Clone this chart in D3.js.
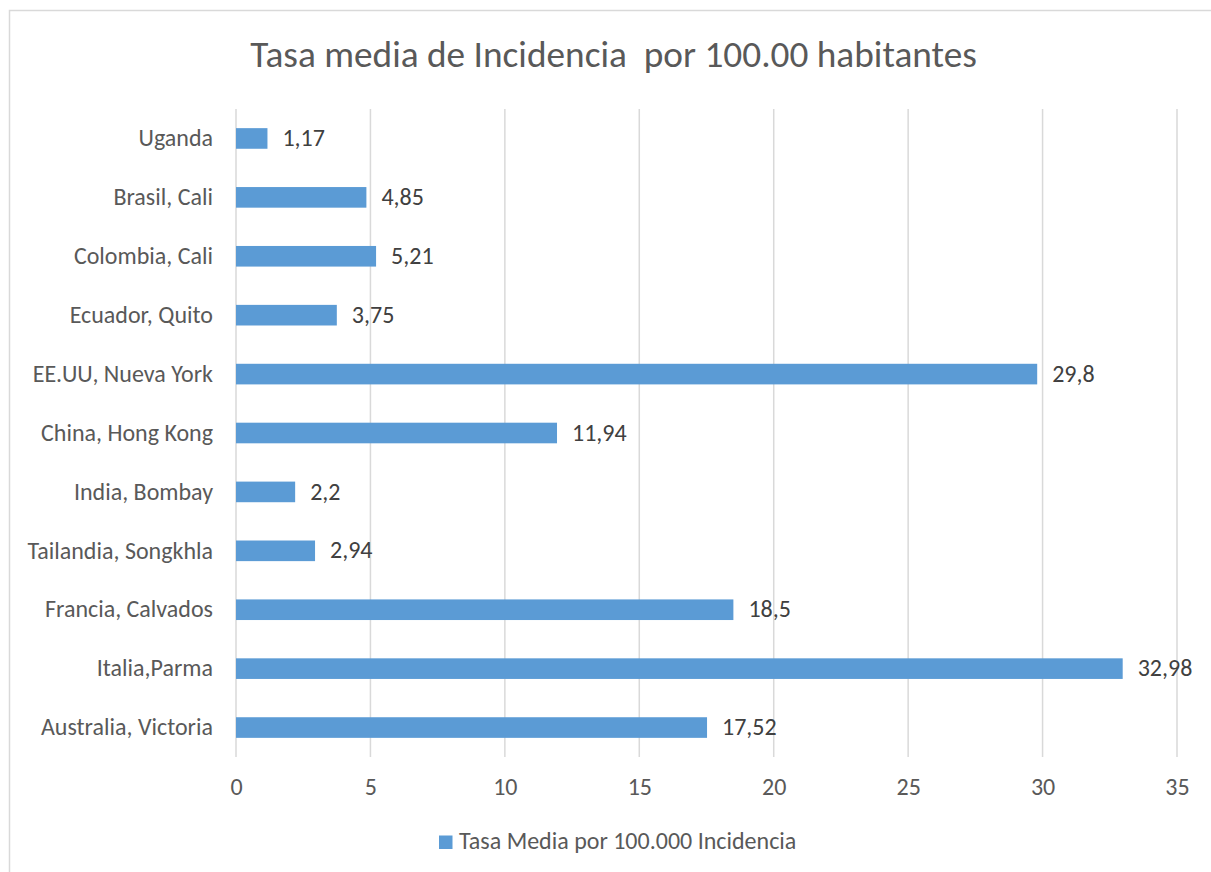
<!DOCTYPE html>
<html><head><meta charset="utf-8"><script src="https://cdn.jsdelivr.net/npm/d3@7"></script>
<style>
  body { margin: 0; background: #fff; }
  text { font-family: Carlito, Lato, "Liberation Sans", sans-serif; }
</style></head>
<body>
<svg id="chart" width="1211" height="872"></svg>
<script>
// Incidence rate per 100,000 inhabitants by registry
const categories = ["Uganda", "Brasil, Cali", "Colombia, Cali", "Ecuador, Quito", "EE.UU, Nueva York",
  "China, Hong Kong", "India, Bombay", "Tailandia, Songkhla", "Francia, Calvados", "Italia,Parma", "Australia, Victoria"];
const values = [1.17, 4.85, 5.21, 3.75, 29.8, 11.94, 2.2, 2.94, 18.5, 32.98, 17.52];
const valueLabels = ["1,17", "4,85", "5,21", "3,75", "29,8", "11,94", "2,2", "2,94", "18,5", "32,98", "17,52"];
const xTicks = [0, 5, 10, 15, 20, 25, 30, 35];
const title = "Tasa media de Incidencia  por 100.00 habitantes";
const seriesName = "Tasa Media por 100.000 Incidencia";

const svg = d3.select("#chart");
const plot = { left: 236, right: 1177, top: 109, bottom: 757 };

// chart frame
svg.append("rect")
  .attr("x", 9.5).attr("y", 10.5).attr("width", 1300).attr("height", 1000)
  .attr("fill", "#fff").attr("stroke", "#d9d9d9").attr("stroke-width", 1.5);

// title
svg.append("text")
  .attr("x", 613.5).attr("y", 66.5)
  .attr("text-anchor", "middle")
  .style("font-size", "37.3px").style("fill", "#595959").style("white-space", "pre")
  .text(title);

const x = d3.scaleLinear().domain([0, 35]).range([plot.left, plot.right]);
const y = d3.scaleBand().domain(categories).range([plot.top, plot.bottom])
  .paddingInner(0.65).paddingOuter(0.325);

// vertical gridlines
svg.append("g").selectAll("line").data(xTicks).join("line")
  .attr("x1", d => x(d)).attr("x2", d => x(d))
  .attr("y1", plot.top).attr("y2", plot.bottom)
  .attr("stroke", "#d9d9d9").attr("stroke-width", 1.5);

// x axis labels
const xAxis = d3.axisBottom(x).tickValues(xTicks).tickSize(0).tickPadding(0).tickFormat(d3.format("d"));
const gx = svg.append("g").attr("transform", `translate(0,${plot.bottom})`).call(xAxis);
gx.select(".domain").remove();
gx.selectAll("text")
  .attr("y", 38).attr("dy", null)
  .style("font-size", "24px").style("fill", "#595959")
  .style("font-family", "Carlito, Lato, 'Liberation Sans', sans-serif");

// category labels
const yAxis = d3.axisLeft(y).tickSize(0).tickPadding(23);
const gy = svg.append("g").attr("transform", `translate(${plot.left},0)`).call(yAxis);
gy.select(".domain").remove();
gy.selectAll("text")
  .attr("dy", "0.32em")
  .style("font-size", "24px").style("fill", "#595959")
  .style("font-family", "Carlito, Lato, 'Liberation Sans', sans-serif");

// bars
svg.append("g").selectAll("rect").data(values).join("rect")
  .attr("x", x(0))
  .attr("y", (d, i) => y(categories[i]))
  .attr("width", d => x(d) - x(0))
  .attr("height", y.bandwidth())
  .attr("fill", "#5b9bd5");

// value labels
svg.append("g").selectAll("text").data(values).join("text")
  .attr("x", d => x(d) + 15)
  .attr("y", (d, i) => y(categories[i]) + y.bandwidth() / 2)
  .attr("dy", "0.32em")
  .style("font-size", "24px").style("fill", "#404040")
  .text((d, i) => valueLabels[i]);

// legend
const legend = svg.append("g").attr("transform", "translate(439,835.5)");
legend.append("rect").attr("width", 13.5).attr("height", 13.5).attr("fill", "#5b9bd5");
legend.append("text").attr("x", 20).attr("y", 13.5)
  .style("font-size", "24px").style("fill", "#595959")
  .text(seriesName);
</script></body></html>
